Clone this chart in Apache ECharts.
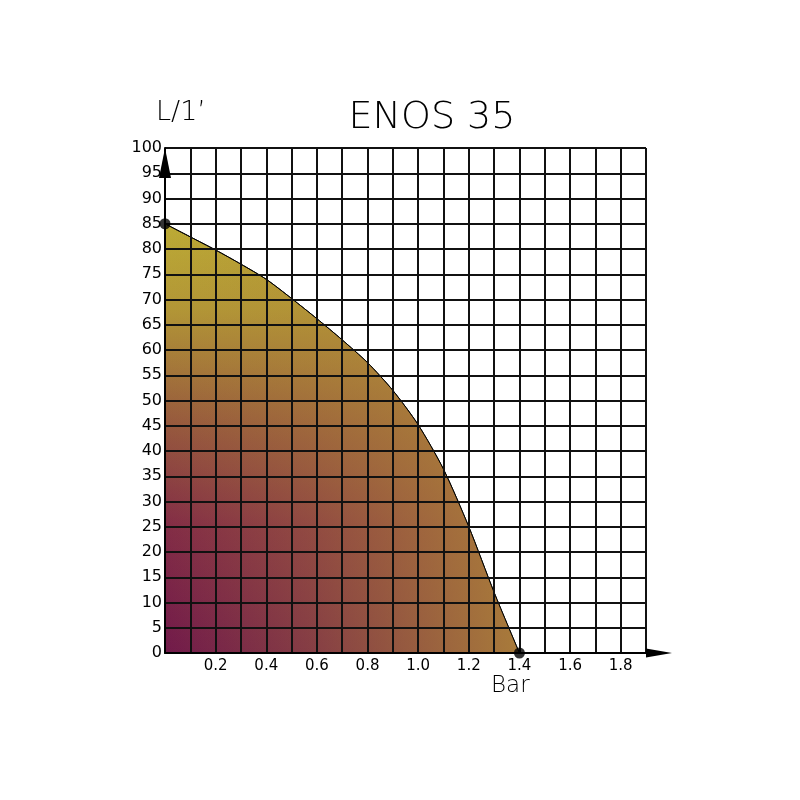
<!DOCTYPE html>
<html>
<head>
<meta charset="utf-8">
<script src="https://cdn.jsdelivr.net/npm/echarts@6/dist/echarts.min.js"></script>
<style>
html,body{margin:0;padding:0;background:#fff;}
#chart{width:800px;height:800px;}
</style>
</head>
<body>
<div id="chart"></div>
<script>
// Data
const pressureBar = [0, 0.1, 0.2, 0.3, 0.4, 0.5, 0.6, 0.7, 0.8, 0.9, 1.0, 1.1, 1.2, 1.3, 1.4];
const flowLmin   = [85, 82.4, 79.8, 77, 74, 70.2, 66.2, 62, 57.5, 52, 45.2, 36.4, 25, 12, 0];
const endPoints  = [[0, 85], [1.4, 0]];
const xTickLabels = ['0.2', '0.4', '0.6', '0.8', '1.0', '1.2', '1.4', '1.6', '1.8'];
const yTickLabels = ['0','5','10','15','20','25','30','35','40','45','50','55','60','65','70','75','80','85','90','95','100'];
const titleText = 'ENOS 35';
const yName = "L/1’";
const xName = 'Bar';

const curve = pressureBar.map((x, i) => [x, flowLmin[i]]);

const FONT = 'DejaVu Sans';
const chart = echarts.init(document.getElementById('chart'), null, {renderer: 'canvas'});
chart.setOption({
  backgroundColor: '#ffffff',
  animation: false,
  grid: {left: 165, right: 154, top: 148, bottom: 147, containLabel: false},
  xAxis: {
    type: 'value', min: 0, max: 1.9, interval: 0.1, z: 5,
    axisLine: {show: true, lineStyle: {color: '#000', width: 2},
      symbol: ['none', 'triangle'], symbolSize: [9, 26], symbolOffset: [0, 13]},
    axisTick: {show: false},
    splitLine: {show: true, lineStyle: {color: '#111', width: 2}},
    axisLabel: {
      color: '#000', fontFamily: FONT, fontSize: 15, margin: 6,
      formatter: function (v) {
        const s = (Math.round(v * 10) / 10).toFixed(1);
        return xTickLabels.indexOf(s) >= 0 ? s : '';
      }
    }
  },
  yAxis: {
    type: 'value', min: 0, max: 100, interval: 5, z: 5,
    axisLine: {show: true, lineStyle: {color: '#000', width: 2},
      symbol: ['none', 'triangle'], symbolSize: [12, 30], symbolOffset: [0, -15]},
    axisTick: {show: false},
    splitLine: {show: true, lineStyle: {color: '#111', width: 2}},
    axisLabel: {
      color: '#000', fontFamily: FONT, fontSize: 16, margin: 3,
      formatter: function (v) {
        const s = String(Math.round(v));
        return yTickLabels.indexOf(s) >= 0 ? s : '';
      }
    }
  },
  series: [
    {
      type: 'line', data: curve, smooth: 0.25, symbol: 'none', z: 2,
      lineStyle: {color: '#000', width: 1},
      areaStyle: {
        opacity: 1,
        color: new echarts.graphic.LinearGradient(0, 1, 0, 0, [
          {offset: 0, color: '#711a4a'},
          {offset: 0.3, color: '#832d46'},
          {offset: 0.55, color: '#985c3d'},
          {offset: 0.8, color: '#b29636'},
          {offset: 1, color: '#bcab35'}
        ])
      }
    },
    {
      type: 'line', data: curve, smooth: 0.25, symbol: 'none', z: 3,
      lineStyle: {width: 0, opacity: 0},
      areaStyle: {
        opacity: 1,
        color: new echarts.graphic.LinearGradient(0, 0, 1, 0, [
          {offset: 0, color: 'rgba(178,140,56,0)'},
          {offset: 0.4, color: 'rgba(178,140,56,0.3)'},
          {offset: 1, color: 'rgba(178,140,56,0.85)'}
        ])
      }
    },
    {
      type: 'line', data: curve, smooth: 0.25, symbol: 'none', z: 4,
      lineStyle: {color: '#000', width: 1}
    },
    {
      type: 'scatter', data: endPoints, symbol: 'circle', symbolSize: 11, z: 10,
      itemStyle: {color: '#000'}
    }
  ],
  graphic: [
    {type: 'text', x: 432, y: 118, z: 20,
      style: {text: titleText, fontFamily: FONT, fontSize: 38, fontWeight: 200, fill: '#000',
        align: 'center', verticalAlign: 'middle'}},
    {type: 'text', left: 156, top: 99, z: 20,
      style: {text: yName, fontFamily: FONT, fontSize: 27, fontWeight: 200, fill: '#000'}},
    {type: 'text', left: 491, top: 675, z: 20,
      style: {text: xName, fontFamily: FONT, fontSize: 23, fontWeight: 200, fill: '#000'}}
  ]
});
</script>
</body>
</html>
